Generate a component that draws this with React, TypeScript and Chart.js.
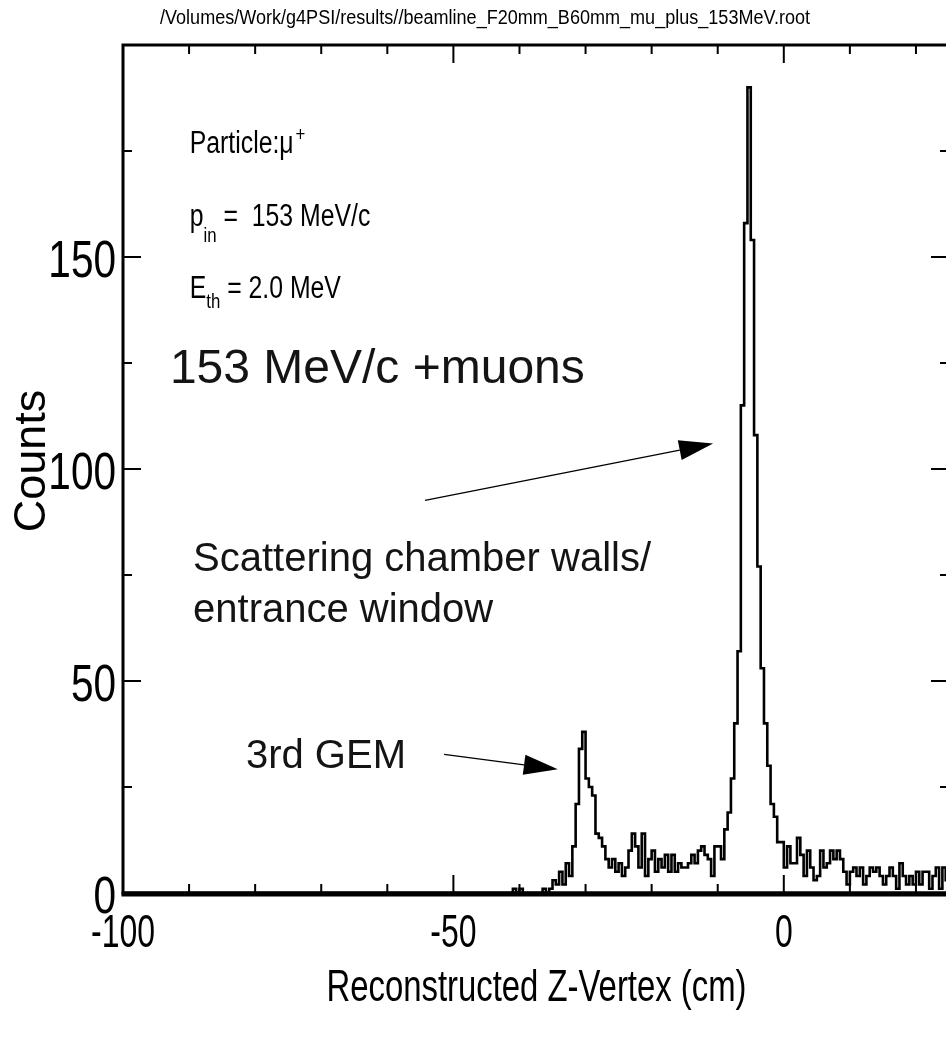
import React, { useEffect, useRef } from 'react';
import { Chart, registerables } from 'chart.js';

Chart.register(...registerables);

// ---- histogram binning (cm) ----
const HIST_LOW = -100;
const HIST_HIGH = 25;
const BIN_WIDTH = 0.5;

// counts per 0.5 cm bin, -100.0 ... -42.5 cm (no vertices upstream)
const countsUpstream = [
  0, 0, 0, 0, 0, 0, 0, 0, 0, 0, 0, 0, 0, 0, 0, 0, 0, 0, 0, 0,
  0, 0, 0, 0, 0, 0, 0, 0, 0, 0, 0, 0, 0, 0, 0, 0, 0, 0, 0, 0,
  0, 0, 0, 0, 0, 0, 0, 0, 0, 0, 0, 0, 0, 0, 0, 0, 0, 0, 0, 0,
  0, 0, 0, 0, 0, 0, 0, 0, 0, 0, 0, 0, 0, 0, 0, 0, 0, 0, 0, 0,
  0, 0, 0, 0, 0, 0, 0, 0, 0, 0, 0, 0, 0, 0, 0, 0, 0, 0, 0, 0,
  0, 0, 0, 0, 0, 0, 0, 0, 0, 0, 0, 0, 0, 0, 0, 0,
];
// -42.0 ... -15.5 cm (3rd GEM peak)
const countsGem = [
  0, 0, 1, 0, 1, 0, 0, 0, 0, 0,
  0, 1, 0, 1, 3, 2, 5, 2, 7, 4,
  11, 21, 34, 38, 27, 25, 23, 14, 13, 11,
  8, 6, 8, 5, 7, 4, 6, 10, 14, 11,
  6, 14, 4, 8, 10, 5, 8, 6, 9, 5,
  9, 5, 7, 6,
];
// -15.0 ... -0.5 cm (scattering chamber walls / entrance window)
const countsWindow = [
  6, 7, 9, 7, 10, 11, 9, 8, 4, 11,
  11, 8, 15, 19, 27, 40, 57, 115, 158, 190,
  154, 108, 77, 53, 40, 30, 21, 18, 12, 12,
];
// 0.0 ... 24.5 cm
const countsDownstream = [
  6, 11, 7, 7, 13, 9, 4, 10, 6, 3,
  4, 10, 6, 7, 10, 8, 10, 8, 5, 2,
  5, 6, 4, 6, 2, 4, 6, 5, 6, 4,
  2, 4, 6, 4, 1, 7, 4, 2, 4, 2,
  5, 2, 5, 5, 1, 4, 6, 1, 6, 3,
];

// ---- axes ----
const Y_MAX = 200;
const X_MAJOR_TICKS = [-100, -50, 0];
const X_MINOR_TICKS = [-90, -80, -70, -60, -40, -30, -20, -10, 10, 20];
const Y_MAJOR_TICKS = [0, 50, 100, 150];
const Y_MINOR_TICKS = [25, 75, 125, 175];

// ---- texts ----
const FILE_TITLE = '/Volumes/Work/g4PSI/results//beamline_F20mm_B60mm_mu_plus_153MeV.root';
const X_TITLE = 'Reconstructed Z-Vertex (cm)';
const Y_TITLE = 'Counts';
const BEAM_LABEL = '153 MeV/c +muons';
const WALL_LABEL = ['Scattering chamber walls/', 'entrance window'];
const GEM_LABEL = '3rd GEM';

// annotation anchors, in axis units (cm, counts)
const INFO_X = -89.9;
const PARTICLE_Y = 174.6;
const MOMENTUM_Y = 157.4;
const THRESHOLD_Y = 140.4;
const BEAM_LABEL_AT = { x: -92.9, y: 120.4 };
const WALL_LABEL_AT = { x: -89.4, y: 75.9, y2: 63.8 };
const GEM_LABEL_AT = { x: -81.4, y: 29.4 };
const WALL_ARROW = { from: { x: -54.3, y: 92.6 }, to: { x: -10.7, y: 106.0 } };
const GEM_ARROW = { from: { x: -51.4, y: 32.7 }, to: { x: -34.2, y: 29.2 } };

// ---- canvas layout (px) ----
const VIEW_W = 946;
const VIEW_H = 1039;
const OFFSET = 8;
const CANVAS_W = 960;
const CANVAS_H = 1031;
const FRAME = { left: 115, top: 37, right: 941, bottom: 885 };

const FONT = '"Liberation Sans", Arial, Helvetica, sans-serif';

function drawScaledText(
  ctx: CanvasRenderingContext2D,
  text: string,
  x: number,
  y: number,
  size: number,
  sx: number,
  align: 'left' | 'center' | 'right' = 'left'
): number {
  ctx.save();
  ctx.font = `${size}px ${FONT}`;
  const w = ctx.measureText(text).width * sx;
  let x0 = x;
  if (align === 'center') x0 = x - w / 2;
  else if (align === 'right') x0 = x - w;
  ctx.translate(x0, y);
  ctx.scale(sx, 1);
  ctx.textAlign = 'left';
  ctx.textBaseline = 'alphabetic';
  ctx.fillText(text, 0, 0);
  ctx.restore();
  return w;
}

function drawArrow(
  ctx: CanvasRenderingContext2D,
  x1: number,
  y1: number,
  x2: number,
  y2: number
) {
  const ang = Math.atan2(y2 - y1, x2 - x1);
  const headLen = 34;
  const headHalf = 10;
  const bx = x2 - headLen * Math.cos(ang);
  const by = y2 - headLen * Math.sin(ang);
  ctx.save();
  ctx.strokeStyle = '#000';
  ctx.fillStyle = '#000';
  ctx.lineWidth = 1.3;
  ctx.beginPath();
  ctx.moveTo(x1, y1);
  ctx.lineTo(bx, by);
  ctx.stroke();
  ctx.beginPath();
  ctx.moveTo(x2, y2);
  ctx.lineTo(bx + headHalf * Math.sin(ang), by - headHalf * Math.cos(ang));
  ctx.lineTo(bx - headHalf * Math.sin(ang), by + headHalf * Math.cos(ang));
  ctx.closePath();
  ctx.fill();
  ctx.restore();
}

// Frame, inward ticks, labels and annotations in the style of a ROOT canvas
const rootFrame = {
  id: 'rootFrame',
  afterDraw(chart: any) {
    const { ctx, chartArea } = chart;
    const xs = chart.scales.x;
    const ys = chart.scales.y;
    const { left, top, right, bottom } = chartArea;

    ctx.save();
    ctx.fillStyle = '#000';
    ctx.strokeStyle = '#000';

    // frame (the x axis line is drawn heavier, as the zero-level of the histogram sits on it)
    ctx.lineWidth = 3;
    ctx.strokeRect(left, top, right - left, bottom - top);
    ctx.lineWidth = 5;
    ctx.beginPath();
    ctx.moveTo(left - 1.5, bottom + 1);
    ctx.lineTo(right + 1.5, bottom + 1);
    ctx.stroke();

    // ticks
    ctx.lineWidth = 2;
    const MAJOR = 18;
    const MINOR = 9;
    ctx.beginPath();
    xs.ticks.forEach((t: any) => {
      const px = xs.getPixelForValue(t.value);
      ctx.moveTo(px, bottom); ctx.lineTo(px, bottom - MAJOR);
      ctx.moveTo(px, top); ctx.lineTo(px, top + MAJOR);
    });
    X_MINOR_TICKS.forEach((v) => {
      const px = xs.getPixelForValue(v);
      ctx.moveTo(px, bottom); ctx.lineTo(px, bottom - MINOR);
      ctx.moveTo(px, top); ctx.lineTo(px, top + MINOR);
    });
    ys.ticks.forEach((t: any) => {
      const py = ys.getPixelForValue(t.value);
      ctx.moveTo(left, py); ctx.lineTo(left + MAJOR, py);
      ctx.moveTo(right, py); ctx.lineTo(right - MAJOR, py);
    });
    Y_MINOR_TICKS.forEach((v) => {
      const py = ys.getPixelForValue(v);
      ctx.moveTo(left, py); ctx.lineTo(left + MINOR, py);
      ctx.moveTo(right, py); ctx.lineTo(right - MINOR, py);
    });
    ctx.stroke();

    // tick labels
    xs.ticks.forEach((t: any) => {
      drawScaledText(ctx, String(t.value), xs.getPixelForValue(t.value), bottom + 54, 47, 0.68, 'center');
    });
    ys.ticks.forEach((t: any) => {
      drawScaledText(ctx, String(t.value), left - 7, ys.getPixelForValue(t.value) + 20, 52, 0.78, 'right');
    });

    // axis titles
    drawScaledText(ctx, X_TITLE, 528.5, 993, 45, 0.73, 'center');
    ctx.save();
    ctx.translate(37, 453);
    ctx.rotate(-Math.PI / 2);
    ctx.font = `45px ${FONT}`;
    ctx.textAlign = 'center';
    ctx.textBaseline = 'alphabetic';
    ctx.fillText(Y_TITLE, 0, 0);
    ctx.restore();

    // file name on top
    ctx.save();
    ctx.font = `20px ${FONT}`;
    const titleW = ctx.measureText(FILE_TITLE).width;
    ctx.restore();
    drawScaledText(ctx, FILE_TITLE, 477, 16, 20, 650 / titleW, 'center');

    // run conditions
    const ix = xs.getPixelForValue(INFO_X);
    const S = 31, SS = 21, SX = 0.8;
    let py = ys.getPixelForValue(PARTICLE_Y);
    let cx = ix + drawScaledText(ctx, 'Particle:\u03bc', ix, py, S, SX);
    drawScaledText(ctx, '+', cx + 2, py - 12, SS, SX);

    py = ys.getPixelForValue(MOMENTUM_Y);
    cx = ix + drawScaledText(ctx, 'p', ix, py, S, SX);
    cx += drawScaledText(ctx, 'in', cx, py + 16, SS, SX);
    drawScaledText(ctx, ' =  153 MeV/c', cx, py, S, SX);

    py = ys.getPixelForValue(THRESHOLD_Y);
    cx = ix + drawScaledText(ctx, 'E', ix, py, S, SX);
    cx += drawScaledText(ctx, 'th', cx, py + 10, SS, SX);
    drawScaledText(ctx, ' = 2.0 MeV', cx, py, S, SX);

    // physics annotations
    ctx.fillStyle = '#141414';
    ctx.font = `48px ${FONT}`;
    ctx.textAlign = 'left';
    ctx.textBaseline = 'alphabetic';
    ctx.fillText(BEAM_LABEL, xs.getPixelForValue(BEAM_LABEL_AT.x), ys.getPixelForValue(BEAM_LABEL_AT.y));
    ctx.font = `40px ${FONT}`;
    ctx.fillText(WALL_LABEL[0], xs.getPixelForValue(WALL_LABEL_AT.x), ys.getPixelForValue(WALL_LABEL_AT.y));
    ctx.fillText(WALL_LABEL[1], xs.getPixelForValue(WALL_LABEL_AT.x), ys.getPixelForValue(WALL_LABEL_AT.y2));
    ctx.fillText(GEM_LABEL, xs.getPixelForValue(GEM_LABEL_AT.x), ys.getPixelForValue(GEM_LABEL_AT.y));

    drawArrow(ctx,
      xs.getPixelForValue(WALL_ARROW.from.x), ys.getPixelForValue(WALL_ARROW.from.y),
      xs.getPixelForValue(WALL_ARROW.to.x), ys.getPixelForValue(WALL_ARROW.to.y));
    drawArrow(ctx,
      xs.getPixelForValue(GEM_ARROW.from.x), ys.getPixelForValue(GEM_ARROW.from.y),
      xs.getPixelForValue(GEM_ARROW.to.x), ys.getPixelForValue(GEM_ARROW.to.y));

    ctx.restore();
  },
};

function histogramPoints() {
  const counts = [...countsUpstream, ...countsGem, ...countsWindow, ...countsDownstream];
  const pts = counts.map((c, i) => ({ x: HIST_LOW + i * BIN_WIDTH, y: c }));
  // close the last bin at the upper edge of the range
  pts.push({ x: HIST_HIGH, y: counts[counts.length - 1] });
  return pts;
}

export default function App() {
  const canvasRef = useRef<HTMLCanvasElement | null>(null);

  useEffect(() => {
    const canvas = canvasRef.current;
    if (!canvas) return;
    const hidden = { display: false };
    const chart = new Chart(canvas, {
      type: 'line',
      data: {
        datasets: [
          {
            data: histogramPoints(),
            stepped: true,
            borderColor: '#000',
            borderWidth: 2.6,
            pointRadius: 0,
            fill: false,
            tension: 0,
          },
        ],
      },
      options: {
        animation: false,
        responsive: false,
        maintainAspectRatio: false,
        devicePixelRatio: 1,
        layout: { padding: 0 },
        plugins: {
          legend: hidden,
          tooltip: { enabled: false },
          title: hidden,
        },
        events: [],
        scales: {
          x: {
            type: 'linear',
            position: 'bottom',
            min: HIST_LOW,
            max: HIST_HIGH,
            grid: hidden,
            border: hidden,
            ticks: { display: false },
            afterBuildTicks: (s: any) => { s.ticks = X_MAJOR_TICKS.map((v) => ({ value: v })); },
            afterFit: (s: any) => { s.height = CANVAS_H - FRAME.bottom; },
          },
          xTop: {
            type: 'linear',
            position: 'top',
            min: HIST_LOW,
            max: HIST_HIGH,
            grid: hidden,
            border: hidden,
            ticks: { display: false },
            afterFit: (s: any) => { s.height = FRAME.top; },
          },
          y: {
            type: 'linear',
            position: 'left',
            min: 0,
            max: Y_MAX,
            grid: hidden,
            border: hidden,
            ticks: { display: false },
            afterBuildTicks: (s: any) => { s.ticks = Y_MAJOR_TICKS.map((v) => ({ value: v })); },
            afterFit: (s: any) => { s.width = FRAME.left; },
          },
          yRight: {
            type: 'linear',
            position: 'right',
            min: 0,
            max: Y_MAX,
            grid: hidden,
            border: hidden,
            ticks: { display: false },
            afterFit: (s: any) => { s.width = CANVAS_W - FRAME.right; },
          },
        },
      },
      plugins: [rootFrame],
    } as any);
    return () => chart.destroy();
  }, []);

  return (
    <div
      style={{
        position: 'fixed',
        left: 0,
        top: 0,
        width: VIEW_W,
        height: VIEW_H,
        overflow: 'hidden',
        background: '#fff',
      }}
    >
      <canvas
        ref={canvasRef}
        width={CANVAS_W}
        height={CANVAS_H}
        style={{ position: 'absolute', left: OFFSET, top: OFFSET, width: CANVAS_W, height: CANVAS_H }}
      />
    </div>
  );
}
